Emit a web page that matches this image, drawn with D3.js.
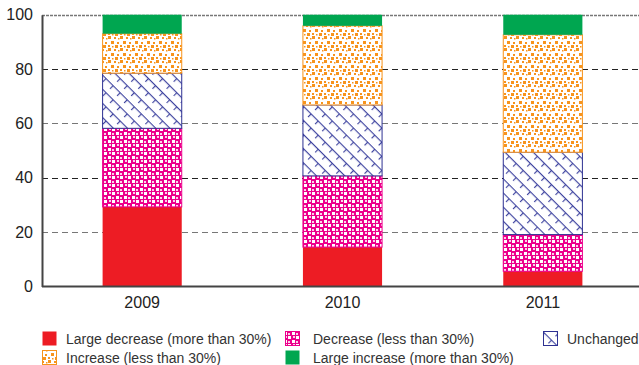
<!DOCTYPE html>
<html>
<head>
<meta charset="utf-8">
<script src="https://d3js.org/d3.v7.min.js"></script>
<style>
body { margin: 0; background: #fff; }
svg { display: block; font-family: "Liberation Sans", Arial, sans-serif; }
</style>
</head>
<body>
<div id="chart"></div>
<script>
var years = ["2009", "2010", "2011"];
var seriesNames = ["Large decrease (more than 30%)", "Decrease (less than 30%)", "Unchanged",
                   "Increase (less than 30%)", "Large increase (more than 30%)"];
var largeDecrease = [29.3, 14.5, 5.6];
var decrease = [28.9, 26.2, 13.5];
var unchanged = [20.3, 26.1, 30.3];
var increase = [14.5, 29.1, 43.2];
var largeIncrease = [7.0, 4.1, 7.4];
var yTicks = [0, 20, 40, 60, 80, 100];

var seriesValues = [largeDecrease, decrease, unchanged, increase, largeIncrease];

var width = 639, height = 365;
var svg = d3.select("#chart").append("svg")
    .attr("width", width)
    .attr("height", height);

// patterns
var defs = svg.append("defs");

var pPink = defs.append("pattern").attr("id", "pink")
    .attr("patternUnits", "userSpaceOnUse").attr("width", 8).attr("height", 8);
pPink.append("rect").attr("width", 8).attr("height", 8).attr("fill", "#ec008c");
pPink.append("rect").attr("x", 0).attr("y", 0).attr("width", 3).attr("height", 3).attr("fill", "#fff");
pPink.append("rect").attr("x", 4).attr("y", 4).attr("width", 3).attr("height", 3).attr("fill", "#fff");
pPink.append("rect").attr("x", 5).attr("y", 0).attr("width", 2).attr("height", 2).attr("fill", "#fbd0e8");
pPink.append("rect").attr("x", 0).attr("y", 5).attr("width", 2).attr("height", 2).attr("fill", "#fbd0e8");

var pBlue = defs.append("pattern").attr("id", "blue")
    .attr("patternUnits", "userSpaceOnUse").attr("width", 10).attr("height", 10)
    .attr("patternTransform", "rotate(45)");
pBlue.append("rect").attr("width", 10).attr("height", 10).attr("fill", "#fff");
pBlue.append("line").attr("x1", 0).attr("y1", 0.5).attr("x2", 10).attr("y2", 0.5)
    .attr("stroke", "#3f44a0").attr("stroke-width", 1.3);
pBlue.append("line").attr("x1", 0.5).attr("y1", 0).attr("x2", 0.5).attr("y2", 5)
    .attr("stroke", "#3f44a0").attr("stroke-width", 1.3);

var pOrange = defs.append("pattern").attr("id", "orange")
    .attr("patternUnits", "userSpaceOnUse").attr("width", 12).attr("height", 12);
pOrange.append("rect").attr("width", 12).attr("height", 12).attr("fill", "#fff");
[[0, 0, 3], [6, 1, 2], [3, 5, 3], [9, 6, 2], [0, 9, 2], [7, 9, 3], [10, 2, 1.5], [4, 10, 1.5]].forEach(function (d) {
    pOrange.append("rect").attr("x", d[0]).attr("y", d[1]).attr("width", d[2]).attr("height", d[2])
        .attr("fill", "#f7941d");
});

var fills = ["#ed1c24", "url(#pink)", "url(#blue)", "url(#orange)", "#00a650"];
var strokes = ["none", "#ec008c", "#2e3192", "#f7941d", "none"];

var mLeft = 42, mRight = 643, mTop = 14.7, mBottom = 286.5;

var x = d3.scaleBand().domain(years).range([mLeft, mRight])
    .paddingInner(0.6).paddingOuter(0.3);
var y = d3.scaleLinear().domain([0, 100]).range([mBottom, mTop]);

// grid lines
svg.append("g").selectAll("line")
    .data(yTicks.filter(function (d) { return d > 0 && d < 100; }))
    .enter().append("line")
    .attr("x1", mLeft).attr("x2", width)
    .attr("y1", function (d) { return Math.round(y(d)) + 0.5; })
    .attr("y2", function (d) { return Math.round(y(d)) + 0.5; })
    .attr("stroke", function (d, i) { return i % 2 == 0 ? "#777" : "#222"; })
    .attr("stroke-width", 1)
    .attr("stroke-dasharray", "6,4");

svg.append("line")
    .attr("x1", mLeft).attr("x2", width)
    .attr("y1", Math.round(y(100)) + 0.5).attr("y2", Math.round(y(100)) + 0.5)
    .attr("stroke", "#777").attr("stroke-width", 1.5)
    .attr("stroke-dasharray", "3,1");

// stacked bars
var stackData = years.map(function (yr, i) {
    var row = { year: yr };
    seriesNames.forEach(function (s, j) { row[s] = seriesValues[j][i]; });
    return row;
});
var stacked = d3.stack().keys(seriesNames)(stackData);

stacked.forEach(function (layer, j) {
    svg.append("g").selectAll("rect")
        .data(layer)
        .enter().append("rect")
        .attr("x", function (d) { return x(d.data.year) + 0.5; })
        .attr("width", x.bandwidth() - 1)
        .attr("y", function (d) { return y(d[1]); })
        .attr("height", function (d) { return y(d[0]) - y(d[1]); })
        .attr("fill", fills[j])
        .attr("stroke", strokes[j])
        .attr("stroke-width", 1);
});

// axes
var yAxis = d3.axisLeft(y).tickValues(yTicks).tickSize(0).tickPadding(9);
var gy = svg.append("g").attr("transform", "translate(" + mLeft + ",0)").call(yAxis);
gy.select(".domain").attr("stroke", "#444").attr("stroke-width", 2);
gy.selectAll("text").attr("font-size", 16).attr("fill", "#222")
    .attr("font-family", "Liberation Sans, Arial, sans-serif");

var xAxis = d3.axisBottom(x).tickSize(0).tickPadding(10);
var gx = svg.append("g").attr("transform", "translate(0," + mBottom + ")").call(xAxis);
gx.select(".domain").attr("d", "M" + mLeft + ",0H" + width).attr("stroke", "#444").attr("stroke-width", 2);
gx.selectAll("text").attr("font-size", 16).attr("fill", "#222")
    .attr("font-family", "Liberation Sans, Arial, sans-serif");

// legend
var legendPos = [[42, 331, 66], [285, 331, 313], [543, 331, 567], [42, 350, 66], [285, 350, 313]];
var legend = svg.append("g");
seriesNames.forEach(function (s, j) {
    var p = legendPos[j];
    legend.append("rect").attr("x", p[0] + 0.5).attr("y", p[1] + 0.5).attr("width", 14).attr("height", 14)
        .attr("fill", fills[j]).attr("stroke", strokes[j]);
    legend.append("text").attr("x", p[2]).attr("y", p[1] + 12.5)
        .attr("font-size", 14).attr("fill", "#333").text(s);
});
</script>
</body>
</html>
